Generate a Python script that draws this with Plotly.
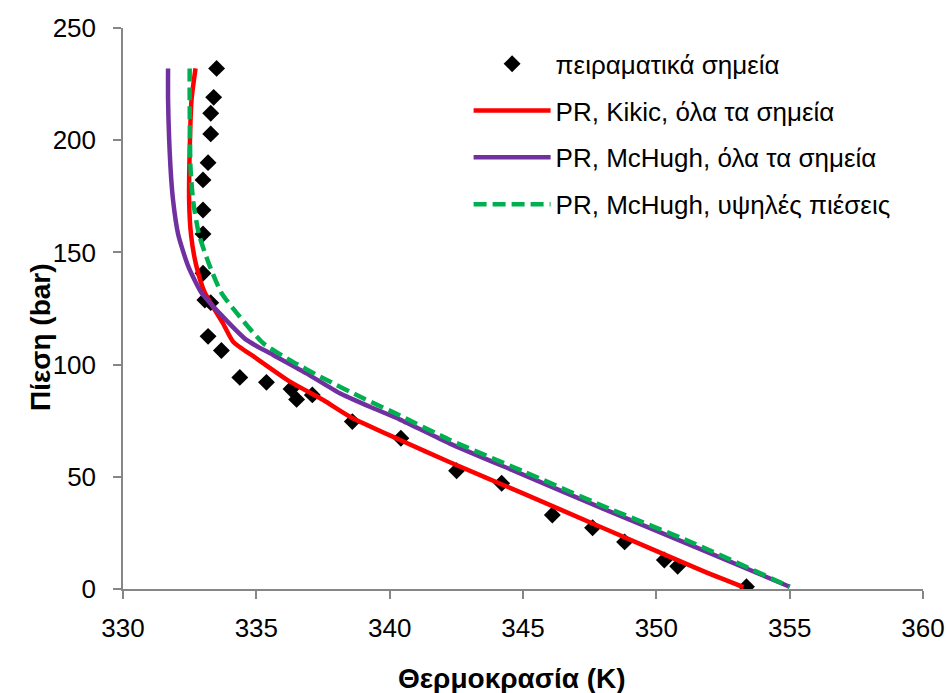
import plotly.graph_objects as go

# Experimental bubble points: temperature (K) and pressure (bar)
exp_T = [333.51, 333.40, 333.29, 333.29, 333.19, 333.00, 333.00, 333.00, 333.00,
         333.07, 333.29, 333.19, 333.69, 334.38, 335.38, 336.30, 336.51, 337.10,
         338.60, 340.42, 342.51, 344.20, 346.10, 347.61, 348.81, 350.30, 350.80, 353.38]
exp_P = [232.0, 219.1, 212.0, 202.8, 190.0, 182.3, 168.9, 158.2, 140.7,
         128.8, 127.6, 112.6, 106.3, 94.3, 92.1, 89.1, 84.5, 86.5,
         74.6, 67.2, 52.7, 47.1, 33.0, 27.3, 21.0, 12.9, 10.1, 1.0]

# PR EoS, Kikic parameters fitted to all points
kikic_T = [332.72, 332.57, 332.50, 332.48, 332.55, 332.75, 333.07, 333.75, 334.13,
           335.00, 336.26, 337.51, 338.51, 340.39, 342.26, 345.00, 348.00, 351.65, 353.27]
kikic_P = [232, 218, 195, 173, 158, 144, 132, 118.4, 110.2,
           102.8, 92.4, 84.2, 76.8, 66.4, 56.5, 42.6, 27.2, 8.5, 0.8]

# PR EoS, McHugh parameters fitted to all points
mchugh_T = [331.69, 331.69, 331.78, 331.88, 332.07, 332.44, 332.94, 333.75, 334.63,
            335.63, 336.88, 338.13, 339.26, 340.39, 342.26, 345.00, 348.00, 351.65, 355.00]
mchugh_P = [232, 218, 188, 173, 158, 144, 132, 121.3, 111.0,
            104.3, 96.1, 87.2, 81.2, 75.5, 64.8, 51.0, 35.8, 17.8, 1.0]

# PR EoS, McHugh parameters fitted to high pressures only
mchugh_hp_T = [332.50, 332.50, 332.53, 332.63, 332.85, 333.25, 333.69, 334.38, 335.26,
               336.26, 337.51, 339.01, 340.39, 342.26, 345.00, 348.00, 351.40, 355.00]
mchugh_hp_P = [232, 218, 188, 173, 158, 144, 132, 121.3, 109.5,
               102.0, 93.9, 85.0, 77.3, 66.4, 52.5, 37.0, 20.4, 1.0]

x_ticks = [330, 335, 340, 345, 350, 355, 360]
y_ticks = [0, 50, 100, 150, 200, 250]

FONT = "Arial, 'Liberation Sans', sans-serif"
AXIS_GREY = "#868686"

fig = go.Figure()
fig.add_trace(go.Scatter(
    x=exp_T, y=exp_P, mode="markers", name="πειραματικά σημεία",
    marker=dict(symbol="diamond", size=13, color="black"), legendgroup="a"))
fig.add_trace(go.Scatter(
    x=kikic_T, y=kikic_P, mode="lines", name="PR, Kikic, όλα τα σημεία",
    line=dict(color="#FF0000", width=4.5, shape="spline", smoothing=0.6), legendgroup="b"))
fig.add_trace(go.Scatter(
    x=mchugh_T, y=mchugh_P, mode="lines", name="PR, McHugh, όλα τα σημεία",
    line=dict(color="#7030A0", width=4.5, shape="spline", smoothing=0.6), legendgroup="c"))
fig.add_trace(go.Scatter(
    x=mchugh_hp_T, y=mchugh_hp_P, mode="lines", name="PR, McHugh, υψηλές πιέσεις",
    line=dict(color="#00B050", width=4.5, dash="13px,6px", shape="spline", smoothing=0.6),
    legendgroup="d"))

axis_common = dict(showgrid=False, zeroline=False, showline=True, linecolor=AXIS_GREY,
                   linewidth=1.5, ticks="outside", ticklen=8, tickcolor=AXIS_GREY,
                   tickwidth=1.5, tickfont=dict(size=26), automargin=False)

fig.update_layout(
    width=946, height=693,
    margin=dict(l=123, r=23, t=28, b=104),
    paper_bgcolor="white", plot_bgcolor="white",
    font=dict(family=FONT, size=26, color="black"),
    showlegend=True,
    legend=dict(x=0.432, y=0.978, xanchor="left", yanchor="top",
                font=dict(family=FONT, size=26, color="black"),
                bgcolor="rgba(0,0,0,0)", tracegroupgap=10, itemwidth=77),
    xaxis=dict(range=[330, 360], tickvals=x_ticks, ticklabelstandoff=7, **axis_common),
    yaxis=dict(range=[0, 250], tickvals=y_ticks, ticklabelstandoff=12, **axis_common),
    annotations=[
        dict(text="<b>Θερμοκρασία (K)</b>", xref="paper", yref="paper",
             x=(511.5 - 123) / 800, y=-(678 - 589) / 561, xanchor="center",
             yanchor="middle", showarrow=False, font=dict(size=28)),
        dict(text="<b>Πίεση (bar)</b>", xref="paper", yref="paper",
             x=-(123 - 40) / 800, y=(589 - 337) / 561, xanchor="center",
             yanchor="middle", textangle=-90, showarrow=False, font=dict(size=28)),
    ],
)

fig.write_html("out.html")
